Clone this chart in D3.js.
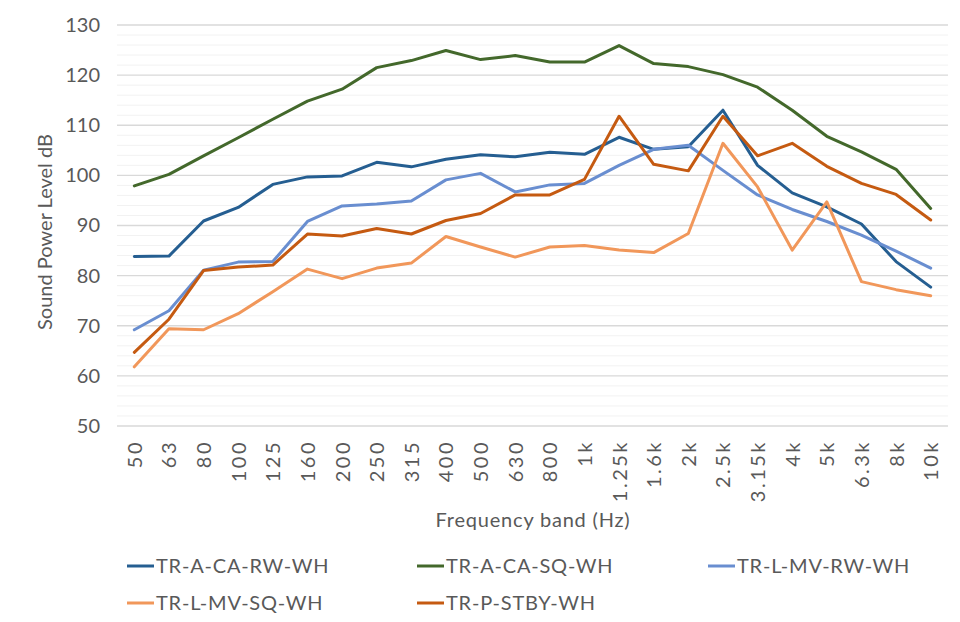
<!DOCTYPE html>
<html>
<head>
<meta charset="utf-8">
<script src="https://cdn.jsdelivr.net/npm/d3@7"></script>
<style>
  body { margin: 0; background: #fff; }
  text { font-family: Lato, "Open Sans", sans-serif; fill: #595959; }
</style>
</head>
<body>
<div id="viz"></div>
<script>
var width = 960,
  height = 622,
  margin = {top: 25, right: 12, bottom: 196, left: 117}

var bands = ["50","63","80","100","125","160","200","250","315","400","500","630","800","1k","1.25k","1.6k","2k","2.5k","3.15k","4k","5k","6.3k","8k","10k"]

var yTicks = [50, 60, 70, 80, 90, 100, 110, 120, 130]

var seriesNames = ["TR-A-CA-RW-WH", "TR-A-CA-SQ-WH", "TR-L-MV-RW-WH", "TR-L-MV-SQ-WH", "TR-P-STBY-WH"]
var colors = ["#255E91", "#43682B", "#698ED0", "#F1975A", "#C55A11"]

var caRw   = [83.8, 83.9, 90.9, 93.6, 98.2, 99.7, 99.9, 102.6, 101.7, 103.2, 104.1, 103.7, 104.6, 104.2, 107.6, 105.2, 105.7, 113.0, 102.0, 96.5, 93.7, 90.3, 82.8, 77.7]
var caSq   = [97.9, 100.2, 103.9, 107.5, 111.2, 114.8, 117.2, 121.5, 122.9, 124.9, 123.1, 123.9, 122.6, 122.6, 125.9, 122.3, 121.7, 120.1, 117.6, 113.0, 107.8, 104.7, 101.2, 93.4]
var mvRw   = [69.2, 73.0, 81.1, 82.7, 82.8, 90.8, 93.9, 94.3, 94.9, 99.1, 100.4, 96.7, 98.1, 98.4, 102.0, 105.2, 106.0, 101.0, 96.1, 93.2, 90.8, 88.1, 84.9, 81.5]
var mvSq   = [61.8, 69.4, 69.2, 72.4, 76.8, 81.3, 79.4, 81.5, 82.5, 87.8, 85.7, 83.7, 85.7, 86.0, 85.1, 84.6, 88.4, 106.4, 97.7, 85.1, 94.7, 78.8, 77.2, 76.0]
var pStby  = [64.7, 71.3, 81.0, 81.7, 82.1, 88.3, 87.9, 89.4, 88.3, 91.0, 92.4, 96.1, 96.1, 99.2, 111.8, 102.2, 100.9, 111.8, 103.9, 106.4, 101.8, 98.4, 96.2, 91.1]

var allSeries = [caRw, caSq, mvRw, mvSq, pStby]

var svg = d3.select("#viz").append("svg")
  .attr("width", width).attr("height", height)

var innerW = width - margin.left - margin.right,
  innerH = height - margin.top - margin.bottom

var g = svg.append("g").attr("transform", "translate(" + margin.left + "," + margin.top + ")")

var x = d3.scalePoint().domain(bands).range([0, innerW]).padding(0.5)
var y = d3.scaleLinear().domain([50, 130]).range([innerH, 0])

// minor gridlines every 2 dB
g.selectAll("line.minor")
  .data(d3.range(52, 130, 2).filter(function(v) { return v % 10 != 0 }))
  .enter().append("line")
  .attr("class", "minor")
  .attr("x1", 0).attr("x2", innerW)
  .attr("y1", function(d) { return y(d) }).attr("y2", function(d) { return y(d) })
  .attr("stroke", "#f2f2f2").attr("stroke-width", 1)

// major gridlines
g.selectAll("line.major")
  .data(yTicks)
  .enter().append("line")
  .attr("class", "major")
  .attr("x1", 0).attr("x2", innerW)
  .attr("y1", function(d) { return y(d) }).attr("y2", function(d) { return y(d) })
  .attr("stroke", "#d9d9d9").attr("stroke-width", 1.3)

// y axis labels
var yAxis = g.append("g").call(d3.axisLeft(y).tickValues(yTicks).tickSize(0).tickPadding(17))
yAxis.select(".domain").remove()
yAxis.selectAll("text").style("font-size", "20px").attr("fill", "#595959")

// x axis labels, rotated
var xAxis = g.append("g").attr("transform", "translate(0," + innerH + ")")
  .call(d3.axisBottom(x).tickSize(0))
xAxis.select(".domain").remove()
xAxis.selectAll("text")
  .style("font-size", "20px").style("letter-spacing", "2.5px").attr("fill", "#595959")
  .attr("transform", "rotate(-90)")
  .attr("x", -14).attr("y", 0).attr("dy", "0.35em")
  .style("text-anchor", "end")

var line = d3.line()
  .x(function(d, i) { return x(bands[i]) })
  .y(function(d) { return y(d) })

g.selectAll("path.series")
  .data(allSeries)
  .enter().append("path")
  .attr("class", "series")
  .attr("d", line)
  .attr("fill", "none")
  .attr("stroke", function(d, i) { return colors[i] })
  .attr("stroke-width", 3)
  .attr("stroke-linejoin", "round")
  .attr("stroke-linecap", "round")

// axis titles
svg.append("text")
  .attr("transform", "translate(45,232) rotate(-90)")
  .attr("dy", "0.35em")
  .attr("text-anchor", "middle")
  .style("font-size", "20px")
  .text("Sound Power Level dB")

svg.append("text")
  .attr("x", 533).attr("y", 520).attr("dy", "0.35em")
  .attr("text-anchor", "middle")
  .style("font-size", "20px").style("letter-spacing", "0.8px")
  .text("Frequency band (Hz)")

// legend
var legendPos = [[127, 566], [417, 566], [708, 566], [127, 603], [417, 603]]
var legend = svg.selectAll("g.legend")
  .data(seriesNames)
  .enter().append("g")
  .attr("class", "legend")
  .attr("transform", function(d, i) { return "translate(" + legendPos[i][0] + "," + legendPos[i][1] + ")" })

legend.append("line")
  .attr("x1", 0).attr("x2", 27).attr("y1", 0).attr("y2", 0)
  .attr("stroke", function(d, i) { return colors[i] })
  .attr("stroke-width", 3)

legend.append("text")
  .attr("x", 29).attr("dy", "0.35em")
  .style("font-size", "20px").style("letter-spacing", "0.8px")
  .text(function(d) { return d })
</script>
</body>
</html>
